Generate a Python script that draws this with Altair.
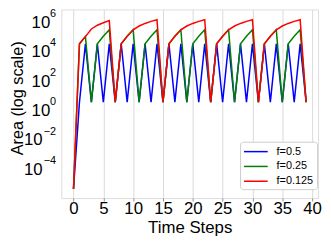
import altair as alt
import pandas as pd

time_steps = list(range(40))
series_names = ["f=0.5", "f=0.25", "f=0.125"]
series_colors = ["#0000ff", "#008000", "#ff0000"]

blue = [5e-6, 4, 3.7e4, 4, 3.7e4, 4, 3.7e4, 4, 3.7e4, 4,
        3.7e4, 4, 3.7e4, 4, 3.7e4, 4, 3.7e4, 4, 3.7e4, 4,
        3.7e4, 4, 3.7e4, 4, 3.7e4, 4, 3.7e4, 4, 3.7e4, 4,
        3.7e4, 4, 3.7e4, 4, 3.7e4, 4, 3.7e4, 4, 3.7e4, 4]

green = [5e-6, 3.7e4, 1.15e5, 4, 3.7e4, 1.2e5, 3.3e5, 4, 3.7e4, 1.2e5,
         3.3e5, 4, 3.7e4, 1.2e5, 3.3e5, 4, 3.7e4, 1.2e5, 3.3e5, 4,
         3.7e4, 1.2e5, 3.3e5, 4, 3.7e4, 1.2e5, 3.3e5, 4, 3.7e4, 1.2e5,
         3.3e5, 4, 3.7e4, 1.2e5, 3.3e5, 4, 3.7e4, 1.2e5, 3.3e5, 4]

red = [5e-6, 3.7e4, 1.15e5, 3.8e5, 6.8e5, 1.0e6, 1.4e6, 4, 3.7e4, 1.2e5,
       3.3e5, 6.0e5, 9.0e5, 1.25e6, 1.6e6, 4, 3.7e4, 1.2e5, 3.3e5, 6.0e5,
       9.0e5, 1.25e6, 1.6e6, 4, 3.7e4, 1.2e5, 3.3e5, 6.0e5, 9.0e5, 1.25e6,
       1.6e6, 4, 3.7e4, 1.2e5, 3.3e5, 6.0e5, 9.0e5, 1.25e6, 1.6e6, 4]

x_ticks = [0, 5, 10, 15, 20, 25, 30, 35, 40]
y_exponents = [-4, -2, 0, 2, 4, 6]
x_title = "Time Steps"
y_title = "Area (log scale)"

FONT = "Liberation Sans"

rows = []
for name, vals in zip(series_names, [blue, green, red]):
    for t, v in zip(time_steps, vals):
        rows.append({"t": t, "Area": v, "series": name})
df = pd.DataFrame(rows)

ticks_df = pd.DataFrame({
    "val": [10.0 ** e for e in y_exponents],
    "exp": [str(e).replace("-", "\u2212") for e in y_exponents],
    "neg": [e < 0 for e in y_exponents],
})

xscale = alt.Scale(domain=[-2.04, 41.0], nice=False, zero=False)
yscale = alt.Scale(type="log", domain=[1.22e-6, 8.05e6], nice=False)

color = alt.Color(
    "series:N",
    scale=alt.Scale(domain=series_names, range=series_colors),
    legend=alt.Legend(
        title=None, orient="none", legendX=181, legendY=134,
        symbolType="M-2,0H2", symbolSize=144, symbolStrokeWidth=1.5,
        symbolOffset=6, labelOffset=14, rowPadding=3, padding=3,
        strokeColor="#cccccc", fillColor="white", cornerRadius=3,
        labelFont=FONT, labelFontSize=11, labelColor="black",
    ),
)

xaxis = alt.Axis(
    values=x_ticks, labelFont=FONT, labelFontSize=17, labelColor="black",
    tickSize=3, tickColor="#8c8c8c", grid=True, gridColor="#d9d9d9",
    domain=False, labelPadding=0, labelFlush=False,
    title=x_title, titleFont=FONT, titleFontSize=17,
    titleFontWeight="normal", titleColor="black", titlePadding=3,
)
yaxis = alt.Axis(
    values=[10.0 ** e for e in y_exponents], labels=False,
    tickSize=3, tickColor="#8c8c8c", grid=True, gridColor="#d9d9d9",
    domain=False, title=None,
)

base = alt.Chart(df)
layers = []
for name in series_names:
    layers.append(
        base.transform_filter(alt.datum.series == name)
        .mark_line(strokeWidth=1.5)
        .encode(
            x=alt.X("t:Q", scale=xscale, axis=xaxis),
            y=alt.Y("Area:Q", scale=yscale, axis=yaxis),
            color=color,
        )
    )

tbase = alt.Chart(ticks_df)
exp_layer = tbase.mark_text(
    font=FONT, fontSize=11, align="right", baseline="middle", dy=-9, color="black"
).encode(
    x=alt.value(-5.3),
    y=alt.Y("val:Q", scale=yscale, axis=None),
    text="exp:N",
)
ten_pos = tbase.transform_filter("!datum.neg").mark_text(
    font=FONT, fontSize=17, align="right", baseline="middle", color="black"
).encode(
    x=alt.value(-11.2),
    y=alt.Y("val:Q", scale=yscale, axis=None),
    text=alt.value("10"),
)
ten_neg = tbase.transform_filter("datum.neg").mark_text(
    font=FONT, fontSize=17, align="right", baseline="middle", color="black"
).encode(
    x=alt.value(-19.0),
    y=alt.Y("val:Q", scale=yscale, axis=None),
    text=alt.value("10"),
)
ytitle_layer = tbase.mark_text(
    font=FONT, fontSize=16.5, align="center", baseline="alphabetic", angle=270,
    color="black",
).encode(
    x=alt.value(-38.5),
    y=alt.value(90),
    text=alt.value(y_title),
).transform_filter("datum.val == 1")

chart = alt.layer(*layers, exp_layer, ten_pos, ten_neg, ytitle_layer).properties(
    width=260, height=191,
    autosize=alt.AutoSizeParams(type="none"),
    padding={"left": 54, "top": 0, "right": 5, "bottom": 38},
).configure_view(stroke="#8c8c8c", strokeWidth=1.2).configure(background="white")

chart.save("out.html", embed_options={"renderer": "svg", "actions": False})
